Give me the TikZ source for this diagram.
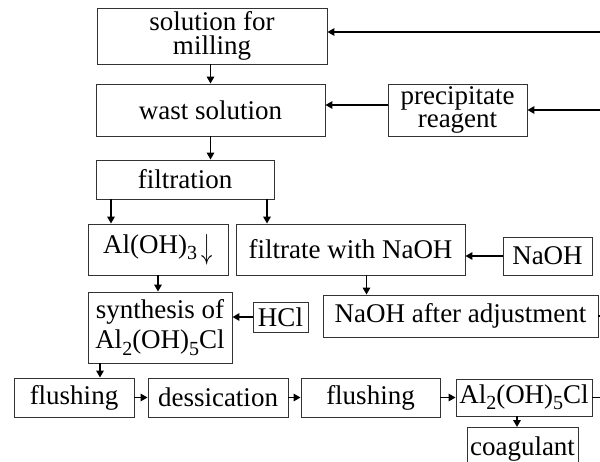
\documentclass[tikz,border=0pt]{standalone}
\usepackage{fontspec}
\usepackage{graphicx}
\setmainfont{Liberation Serif}
\usetikzlibrary{arrows.meta}
\newcommand\chemsub[1]{\raisebox{-0.5ex}{\fontsize{20}{20}\selectfont #1}}
\begin{document}
\begin{tikzpicture}[x=1pt,y=1pt,
  box/.style={draw=black!80, line width=0.9pt, inner sep=0pt, align=center,
    font=\fontsize{27}{22}\selectfont},
  arr/.style={line width=1.6pt, -{Triangle[length=7pt,width=7.5pt]}},
  lnk/.style={line width=1.2pt}]
\useasboundingbox (0,0) rectangle (600,-461);
% boxes
\node[box, minimum width=230, minimum height=56, font=\fontsize{27}{24}\selectfont] (sol) at (212,-36) {solution for\\milling};
\node[box, minimum width=229, minimum height=52] (wast) at (210.5,-110) {wast solution};
\node[box, minimum width=139, minimum height=52, font=\fontsize{27}{23}\selectfont] (prec) at (457.5,-110) {precipitate\\reagent};
\node[box, minimum width=178, minimum height=39] (filt) at (185,-179.5) {filtration};
\node[box, minimum width=140, minimum height=51] (aloh) at (158,-249.5) {Al(OH)\chemsub{3}\,\raisebox{-0.4ex}{\scalebox{0.9}[1.4]{$\downarrow$}}};
\node[box, minimum width=229, minimum height=51] (filtr) at (350.5,-249.5) {filtrate with NaOH};
\node[box, minimum width=89, minimum height=38] (naoh) at (547.5,-256) {NaOH};
\node[box, minimum width=275, minimum height=42] (adj) at (460.5,-316) {NaOH after adjustment};
\node[box, minimum width=144, minimum height=71, font=\fontsize{27}{30}\selectfont] (syn) at (160,-327.5) {synthesis of\\Al\chemsub{2}(OH)\chemsub{5}Cl};
\node[box, minimum width=55, minimum height=30] (hcl) at (280.5,-317) {HCl};
\node[box, minimum width=120, minimum height=39] (fl1) at (74,-397.5) {flushing};
\node[box, minimum width=140, minimum height=39] (des) at (218,-397.5) {dessication};
\node[box, minimum width=139, minimum height=39] (fl2) at (370.5,-397.5) {flushing};
\node[box, minimum width=136, minimum height=37] (al2) at (524,-397.5) {Al\chemsub{2}(OH)\chemsub{5}Cl};
\node[box, minimum width=111, minimum height=44, anchor=north] (coag) at (522.5,-427) {coagulant};
% free ends at the right edge
\coordinate (e1) at (600,-32);
\coordinate (e2) at (600,-110);
\coordinate (e3) at (600,-316);
\coordinate (e4) at (600,-397.5);
% connectors
\draw[arr] (e1) -- (e1 -| sol.east);
\draw[arr] (e2) -- (prec.east);
\draw[arr] ([yshift=5]prec.west) -- ([yshift=5]wast.east);
\draw[arr] (wast.south |- sol.south) -- (wast.north);
\draw[arr] (wast.south) -- (wast.south |- filt.north);
\draw[arr] ([xshift=-74]filt.south) -- ([xshift=-74]filt.south |- aloh.north);
\draw[arr] ([xshift=82]filt.south) -- ([xshift=82]filt.south |- filtr.north);
\draw[arr] (naoh.west) -- (naoh.west -| filtr.east);
\draw[arr] (aloh.south) -- (aloh.south |- syn.north);
\draw[arr] ([xshift=16]filtr.south) -- ([xshift=16]filtr.south |- adj.north);
\draw[arr] (hcl.west) -- (hcl.west -| syn.east);
\draw[lnk] (adj.east) -- (e3);
\draw[arr] ([xshift=-60]syn.south) -- ([xshift=-60]syn.south |- fl1.north);
\draw[arr] (fl1.east) -- (des.west);
\draw[arr] (des.east) -- (fl2.west);
\draw[arr] (fl2.east) -- (al2.west);
\draw[lnk] (al2.east) -- (e4);
\draw[arr] ([xshift=-7]al2.south) -- ([xshift=-7]al2.south |- coag.north);
\end{tikzpicture}
\end{document}
